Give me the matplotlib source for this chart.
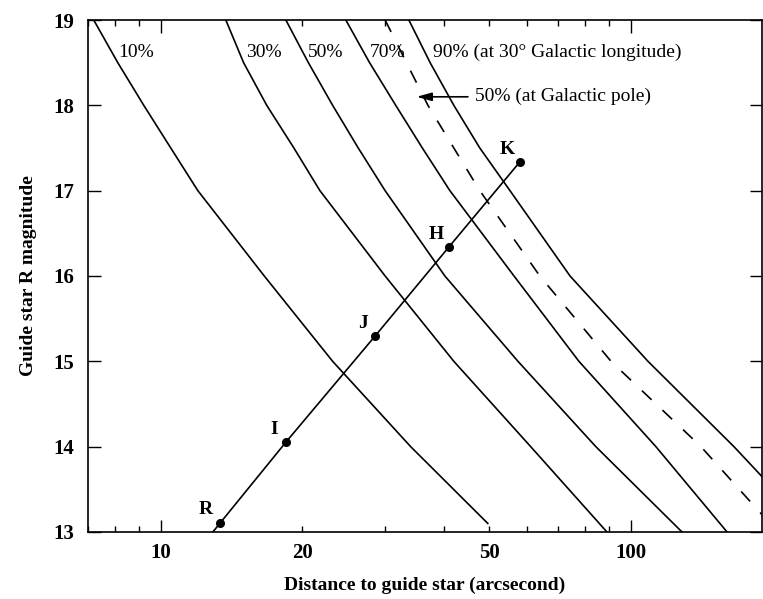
import numpy as np
import matplotlib
matplotlib.use("Agg")
import matplotlib.pyplot as plt
from matplotlib.ticker import FixedLocator, LogLocator, FuncFormatter

plt.rcParams['font.family'] = ['Liberation Serif', 'DejaVu Serif']

# ---- data ----
mag_common = [19, 18.5, 18, 17.5, 17, 16, 15, 14, 13]
mag_10 = [19, 18.5, 18, 17.5, 17, 16, 15, 14, 13.1]
dist_10 = [7.20, 8.10, 9.20, 10.5, 11.99, 16.6, 23.2, 34.0, 49.6]
dist_30 = [13.75, 15.0, 16.8, 19.19, 21.8, 30.0, 42.0, 61.2, 88.9]
dist_50 = [18.45, 20.6, 23.2, 26.3, 30.0, 40.2, 57.5, 84.2, 128.4]
dist_70 = [24.75, 27.8, 31.6, 36.0, 41.2, 56.4, 77.5, 113.0, 160.1]
dist_90 = [33.7, 37.4, 42.0, 47.7, 55.3, 74.2, 108.7, 165.6, 245.0]
dist_pole50 = [30.0, 33.3, 37.0, 42.0, 47.7, 64.0, 90.7, 140.9, 205.0]

band_names = ["R", "I", "J", "H", "K"]
band_dist = [13.35, 18.5, 28.6, 41.0, 58.1]
band_mag = [13.1, 14.06, 15.30, 16.34, 17.34]

x_ticks_major = [10, 100]
x_tick_labels = {10: "10", 20: "20", 50: "50", 100: "100"}
y_ticks = [13, 14, 15, 16, 17, 18, 19]

fig = plt.figure(figsize=(7.63, 5.99), dpi=100)
ax = fig.add_axes([0.1153, 0.1119, 0.8834, 0.8547])
ax.set_xscale('log')
ax.set_xlim(7.0, 190)
ax.set_ylim(13, 19)

lw = 1.2
for d, m in [(dist_10, mag_10), (dist_30, mag_common), (dist_50, mag_common),
             (dist_70, mag_common), (dist_90, mag_common)]:
    ax.plot(d, m, color='black', lw=lw, solid_joinstyle='round')
ax.plot(dist_pole50, mag_common, color='black', lw=lw, linestyle=(0, (8, 9)))

# guide-star line (extended down to the axis along the R-I direction)
lx = np.log10(band_dist)
slope = (band_mag[1] - band_mag[0]) / (lx[1] - lx[0])
x_start = 10 ** (lx[0] + (13 - band_mag[0]) / slope)
ax.plot([x_start] + band_dist, [13] + band_mag, color='black', lw=lw)
ax.plot(band_dist, band_mag, 'o', color='black', ms=5.5)
for name, d, m in zip(band_names, band_dist, band_mag):
    off = (-9, 9) if name != "R" else (-10, 10)
    ax.annotate(name, (d, m), xytext=off, textcoords='offset points',
                ha='center', va='center', fontsize=14, fontweight='bold')

# curve labels
fs = 14
ax.text(8.1, 18.62, "10%", fontsize=fs, va='center', ha='left')
ax.text(15.2, 18.62, "30%", fontsize=fs, va='center', ha='left')
ax.text(20.55, 18.62, "50%", fontsize=fs, va='center', ha='left')
ax.text(27.8, 18.62, "70%", fontsize=fs, va='center', ha='left')
ax.text(37.9, 18.62, "90% (at 30° Galactic longitude)", fontsize=fs, va='center', ha='left')
ax.text(46.6, 18.10, "50% (at Galactic pole)", fontsize=fs, va='center', ha='left')
ax.annotate("", xy=(35.0, 18.10), xytext=(45.0, 18.10),
            arrowprops=dict(arrowstyle='-|>,head_length=0.9,head_width=0.25',
                            color='black', lw=1.2, shrinkA=0, shrinkB=0))

# ticks
ax.xaxis.set_major_locator(FixedLocator(x_ticks_major))
ax.xaxis.set_minor_locator(LogLocator(base=10, subs=np.arange(2, 10)))
ax.xaxis.set_major_formatter(FuncFormatter(lambda v, p: x_tick_labels.get(int(round(v)), "")))
ax.xaxis.set_minor_formatter(FuncFormatter(lambda v, p: x_tick_labels.get(int(round(v)), "")))
ax.yaxis.set_major_locator(FixedLocator(y_ticks))
ax.tick_params(which='both', direction='in', top=True, right=True, width=1)
ax.tick_params(which='major', length=9, labelsize=15, pad=8)
ax.tick_params(which='minor', length=4, labelsize=15, pad=8)
ax.tick_params(axis='y', pad=10)
for lab in ax.get_xticklabels(which='both') + ax.get_yticklabels():
    lab.set_fontweight('bold')
for sp in ax.spines.values():
    sp.set_linewidth(1.2)

ax.set_xlabel("Distance to guide star (arcsecond)", fontsize=14, fontweight='bold', labelpad=10)
ax.set_ylabel("Guide star R magnitude", fontsize=14, fontweight='bold', labelpad=12)

fig.savefig("out.png", dpi=100)
